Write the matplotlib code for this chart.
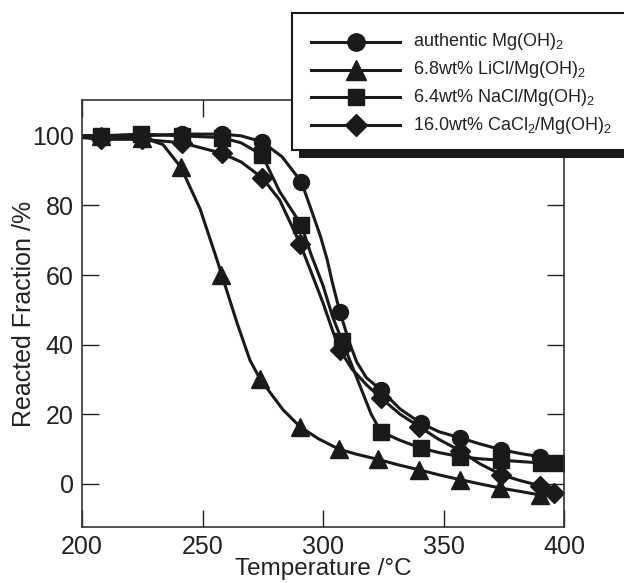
import matplotlib
matplotlib.use("Agg")
import matplotlib.pyplot as plt
from matplotlib.lines import Line2D
from matplotlib.patches import Rectangle

plt.rcParams["font.family"] = ["Liberation Sans", "DejaVu Sans"]
plt.rcParams["mathtext.fontset"] = "custom"
plt.rcParams["mathtext.rm"] = "Liberation Sans"

# curve points (temperature degC, reacted fraction %)
auth_t = [200, 208, 225, 241.5, 258, 266, 274.7, 283, 291, 295, 299, 301.7, 304, 307, 311, 314, 318, 324,
          332, 340.5, 348, 357, 365, 374, 382, 390, 394]
auth_v = [100, 100, 100, 100.5, 100.5, 100, 98.3, 94, 86.8, 79, 71, 64.5, 57.5, 49.4, 40.5, 35, 30.5, 27,
          21.5, 17.5, 15, 13.2, 11.5, 9.8, 8.7, 7.8, 7.3]
licl_t = [200, 208, 225, 233.6, 241, 249, 256, 264.3, 269.7, 274, 283.4, 290.5, 298, 306.5, 314, 323,
          331, 340, 348, 357, 365, 373.5, 382, 390, 394]
licl_v = [100, 100, 99.5, 97.5, 91, 79, 64.4, 46.3, 35.5, 30, 21.3, 16.4, 13, 10, 8.5, 7,
          5.5, 4, 2.6, 1.2, 0, -1.2, -2.2, -3.2, -3.5]
nacl_t = [200, 208, 224.5, 241.5, 258, 266, 274.7, 282, 291, 295, 300, 304, 308, 312, 316, 320, 324,
          332, 340.5, 348, 357, 365, 374, 382, 390.5, 397]
nacl_v = [100, 100, 100.5, 100, 99.5, 98, 94.5, 84, 74.4, 66, 57, 48, 41, 34, 27, 20, 15,
          12.5, 10.3, 9, 7.8, 7.2, 6.8, 6.4, 6, 6]
cacl_t = [200, 208, 225, 241.5, 258, 266, 274.7, 282, 290.5, 295, 300, 304, 307, 312, 318, 324,
          332, 340, 348, 357, 365, 374, 382, 390, 396]
cacl_v = [99.5, 99, 99, 98, 95, 92.5, 88, 81.6, 69, 61, 52, 44, 38.5, 33, 28.5, 24.7,
          20, 16.4, 12.8, 9.5, 5.8, 2.6, 0.9, -0.5, -2.5]

# marker positions
auth_mt = [208, 224.5, 241.5, 258, 274.7, 291, 307, 324, 340.5, 357, 374, 390]
auth_mv = [100, 100, 100.5, 100.5, 98.3, 86.8, 49.4, 27, 17.5, 13.2, 9.8, 7.8]
licl_mt = [208, 225, 241, 257.5, 274, 290.5, 306.5, 323, 340, 357, 373.5, 390]
licl_mv = [100, 99.5, 91, 60, 30, 16.4, 10, 7, 4, 1.2, -1.2, -3.2]
nacl_mt = [208, 224.5, 241.5, 258, 274.7, 291, 308, 324, 340.5, 357, 374, 390.5, 397]
nacl_mv = [100, 100.5, 100, 99.5, 94.5, 74.4, 41, 15, 10.3, 7.8, 6.8, 6, 6]
cacl_mt = [208, 225, 241.5, 258, 274.7, 290.5, 307, 324, 340, 357, 374, 390, 396]
cacl_mv = [99, 99, 98, 95, 88, 69, 38.5, 24.7, 16.4, 9.5, 2.6, -0.5, -2.5]

labels = ["authentic Mg(OH)$\\mathregular{_2}$",
          "6.8wt% LiCl/Mg(OH)$\\mathregular{_2}$",
          "6.4wt% NaCl/Mg(OH)$\\mathregular{_2}$",
          "16.0wt% CaCl$\\mathregular{_2}$/Mg(OH)$\\mathregular{_2}$"]

INK = "#1a1a1a"
series = [
    (auth_t, auth_v, auth_mt, auth_mv, "o", 11.5),
    (licl_t, licl_v, licl_mt, licl_mv, "^", 13.5),
    (nacl_t, nacl_v, nacl_mt, nacl_mv, "s", 11),
    (cacl_t, cacl_v, cacl_mt, cacl_mv, "D", 10),
]

fig = plt.figure(figsize=(6.24, 5.83), dpi=100)
ax = fig.add_axes([82 / 624, 56 / 583, 482 / 624, 427 / 583])

for t, v, mt, mv, mk, ms in series:
    ax.plot(t, v, color=INK, lw=2.2, solid_joinstyle="round")
    ax.plot(mt, mv, ls="none", marker=mk, ms=ms, color=INK, mec=INK)

ax.set_xlim(200, 400)
ax.set_ylim(-12.4, 110.3)
ax.set_xticks([200, 250, 300, 350, 400])
ax.set_yticks([0, 20, 40, 60, 80, 100])
ax.tick_params(direction="in", length=12, width=1.0, labelsize=18, pad=6,
               top=True, right=True, colors="#222")
for s in ax.spines.values():
    s.set_linewidth(1.2)
    s.set_color("#333")
ax.set_xlabel("Temperature /\u00b0C", fontsize=17.5, color="#222", labelpad=-1)
ax.set_ylabel("Reacted Fraction /%", fontsize=18, color="#222", labelpad=-3)

# legend box with drop shadow, running off the right edge
W, H = 624.0, 583.0
fig.patches.append(Rectangle((299 / W, 1 - 158 / H), 0.6, 137 / H, transform=fig.transFigure,
                             facecolor=INK, edgecolor="none", zorder=5))
fig.patches.append(Rectangle((292 / W, 1 - 150 / H), 0.6, 137 / H, transform=fig.transFigure,
                             facecolor="white", edgecolor=INK, lw=1.5, zorder=6))
rows_y = [42, 70, 97, 125]
for (t, v, mt, mv, mk, ms), lab, ry in zip(series, labels, rows_y):
    yy = 1 - ry / H
    fig.add_artist(Line2D([311 / W, 400 / W], [yy, yy], transform=fig.transFigure,
                          color=INK, lw=2.2, zorder=7))
    fig.add_artist(Line2D([356 / W], [yy], transform=fig.transFigure, ls="none",
                          marker=mk, ms=ms + 1, color=INK, zorder=8))
    fig.text(413 / W, yy, lab, fontsize=13, va="center", ha="left", color="#222", zorder=9)

fig.savefig("out.png", dpi=100)
